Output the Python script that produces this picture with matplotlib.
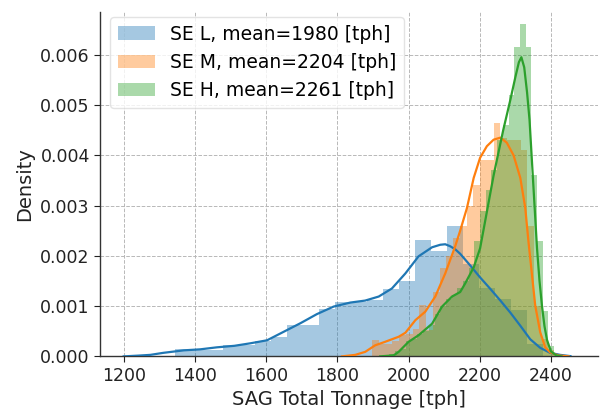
import numpy as np
import matplotlib
matplotlib.use("Agg")
import matplotlib.pyplot as plt

# ---------------- data ----------------
labels = ["SE L, mean=1980 [tph]", "SE M, mean=2204 [tph]", "SE H, mean=2261 [tph]"]

# histogram densities (x 1e-3) ; bins: start + width
L_bin_start, L_bin_width = 1344, 45
L_hist = [0.15, 0.12, 0.12, 0.22, 0.22, 0.30, 0.39, 0.63, 0.63, 0.94, 1.08, 1.08,
          1.12, 1.34, 1.50, 2.32, 2.10, 2.60, 1.84, 1.36, 1.15, 0.92, 0.25]

M_bin_start, M_bin_width = 1897, 19
M_hist = [0.32, 0.25, 0.25, 0.30, 0.42, 0.45, 0.55, 1.02, 0.53, 1.29, 1.75, 2.00,
          2.35, 2.60, 3.00, 3.40, 3.90, 3.90, 4.65, 4.35, 4.30, 4.30, 4.10, 2.60,
          1.00, 0.35, 0.12, 0.05]

H_bin_start, H_bin_width = 1945, 16
H_hist = [0.04, 0.10, 0.15, 0.30, 0.35, 0.45, 0.50, 0.62, 0.85, 1.00, 1.15, 1.22,
          1.35, 1.50, 1.75, 2.30, 2.90, 3.30, 3.70, 4.30, 4.60, 5.20, 6.15, 6.61,
          6.16, 3.60, 2.30, 0.90, 0.20, 0.05]

# KDE curves (x in tph, density x 1e-3)
L_kde_x = [1199, 1240, 1274, 1310, 1368, 1414, 1461, 1510, 1555, 1602, 1649, 1696,
           1742, 1789, 1836, 1878, 1916, 1953, 1991, 2028, 2066, 2089, 2103, 2117,
           2131, 2145, 2173, 2201, 2230, 2258, 2286, 2314, 2342, 2370, 2398, 2426, 2455]
L_kde_y = [0.0, 0.015, 0.03, 0.07, 0.12, 0.14, 0.18, 0.21, 0.26, 0.32, 0.49, 0.66,
           0.84, 0.99, 1.07, 1.11, 1.19, 1.35, 1.65, 1.99, 2.17, 2.22, 2.23, 2.19,
           2.13, 2.04, 1.81, 1.57, 1.34, 1.11, 0.87, 0.61, 0.34, 0.17, 0.07, 0.03, 0.005]

M_kde_x = [1813, 1850, 1878, 1906, 1934, 1972, 1991, 2019, 2047, 2075, 2103, 2131,
           2145, 2164, 2183, 2201, 2220, 2239, 2258, 2276, 2295, 2314, 2328, 2337,
           2347, 2356, 2370, 2384, 2398, 2420, 2450]
M_kde_y = [0.0, 0.03, 0.09, 0.22, 0.29, 0.39, 0.47, 0.72, 0.89, 1.19, 1.65, 2.19,
           2.50, 2.95, 3.55, 3.95, 4.18, 4.31, 4.35, 4.25, 4.00, 3.55, 2.95, 2.28,
           1.61, 1.01, 0.48, 0.18, 0.08, 0.02, 0.0]

H_kde_x = [1920, 1958, 1972, 2000, 2028, 2066, 2094, 2122, 2145, 2159, 2183, 2201,
           2211, 2239, 2266, 2286, 2300, 2310, 2317, 2325, 2333, 2340, 2347, 2354,
           2361, 2368, 2375, 2382, 2389, 2400, 2415, 2430]
H_kde_y = [0.0, 0.02, 0.09, 0.29, 0.42, 0.65, 0.99, 1.19, 1.28, 1.45, 1.77, 2.15,
           2.53, 3.60, 4.50, 5.10, 5.55, 5.85, 5.95, 5.75, 5.25, 4.70, 3.85, 3.00,
           2.15, 1.50, 1.00, 0.60, 0.33, 0.10, 0.02, 0.0]

colors = ["#1f77b4", "#ff7f0e", "#2ca02c"]

# ---------------- plot ----------------
fig = plt.figure(figsize=(6.0, 4.12), dpi=100)
ax = fig.add_axes([0.167, 0.135, 0.83, 0.836])

series = [
    (L_bin_start, L_bin_width, L_hist, L_kde_x, L_kde_y),
    (M_bin_start, M_bin_width, M_hist, M_kde_x, M_kde_y),
    (H_bin_start, H_bin_width, H_hist, H_kde_x, H_kde_y),
]
for (start, width, hist, kx, ky), col, lab in zip(series, colors, labels):
    lefts = start + width * np.arange(len(hist))
    ax.bar(lefts, np.array(hist) * 1e-3, width=width, align="edge",
           color=col, alpha=0.4, linewidth=0, label=lab, zorder=2)
for (start, width, hist, kx, ky), col in zip(series, colors):
    ax.plot(kx, np.array(ky) * 1e-3, color=col, lw=1.6, zorder=3,
            solid_joinstyle="round")

ax.set_xlim(1133, 2533)
ax.set_ylim(0, 0.00685)
ax.set_xticks([1200, 1400, 1600, 1800, 2000, 2200, 2400])
ax.set_yticks([0.000, 0.001, 0.002, 0.003, 0.004, 0.005, 0.006])
ax.yaxis.set_major_formatter(matplotlib.ticker.FormatStrFormatter("%.3f"))

ax.grid(True, linestyle="--", color="#b8b8b8", linewidth=0.7, zorder=0)
ax.set_axisbelow(True)
for s in ["top", "right"]:
    ax.spines[s].set_visible(False)
for s in ["left", "bottom"]:
    ax.spines[s].set_color("#333333")
    ax.spines[s].set_linewidth(1.0)
ax.tick_params(axis="both", labelsize=12.5, colors="#222222", length=4)

ax.set_xlabel("SAG Total Tonnage [tph]", fontsize=14, color="#222222")
ax.set_ylabel("Density", fontsize=14, color="#222222")

ax.legend(loc="upper left", fontsize=13.5, frameon=True, framealpha=0.8,
          edgecolor="#dddddd", bbox_to_anchor=(0.02, 0.985), borderaxespad=0.0)

fig.savefig("out.png", dpi=100)
